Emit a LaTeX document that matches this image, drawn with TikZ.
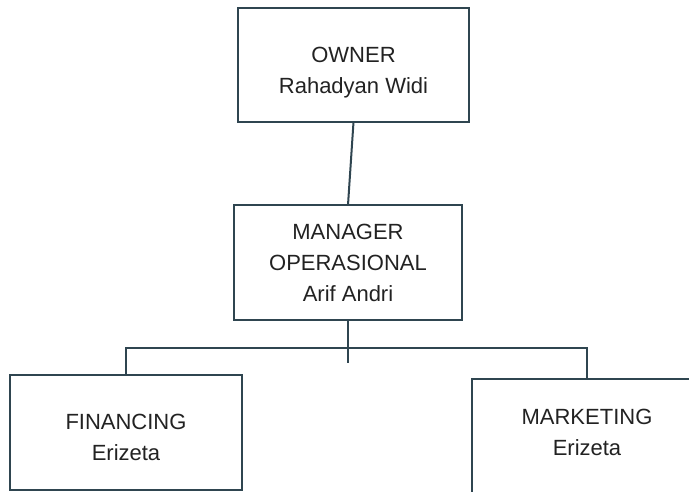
\documentclass[tikz,border=0pt]{standalone}
\usepackage{fontspec}
\setmainfont{Liberation Sans}
\usetikzlibrary{positioning}
\definecolor{boxline}{HTML}{2F4550}
\definecolor{boxtext}{HTML}{222222}

\begin{document}
\begin{tikzpicture}[x=1pt,y=-1pt,
        line width=2pt,
        box/.style = {draw=boxline,align=center,text=boxtext,
            font=\fontsize{22}{31}\selectfont,inner sep=0pt,outer sep=0pt},
        link/.style = {draw=boxline}]
    \useasboundingbox (0,0) rectangle (689,491);
    \clip (0,0) rectangle (689,491);
    \node[box,minimum width=231pt,minimum height=114pt] (owner) at (353.5,65)
        {\rule{0pt}{30pt}OWNER\\Rahadyan Widi};
    \node[box,minimum width=228pt,minimum height=115pt,
        below=83pt of owner,xshift=-5.5pt] (manager) {MANAGER\\OPERASIONAL\\Arif Andri};
    \node[box,minimum width=232pt,minimum height=115pt] (fin) at (126,432.5)
        {\rule{0pt}{26pt}FINANCING\\Erizeta};
    \node[box,minimum width=230pt,minimum height=114pt] (mkt) at (587,436)
        {MARKETING\\Erizeta\rule[-8pt]{0pt}{8pt}};
    \coordinate[below=28pt of manager.south] (split);
    \coordinate[below=43pt of manager.south] (stemend);
    \path[link]
        (owner.south) edge (manager.north)
        (manager.south) edge (stemend);
    \draw[link] (fin.north) |- (split) -| (mkt.north);
\end{tikzpicture}
\end{document}
